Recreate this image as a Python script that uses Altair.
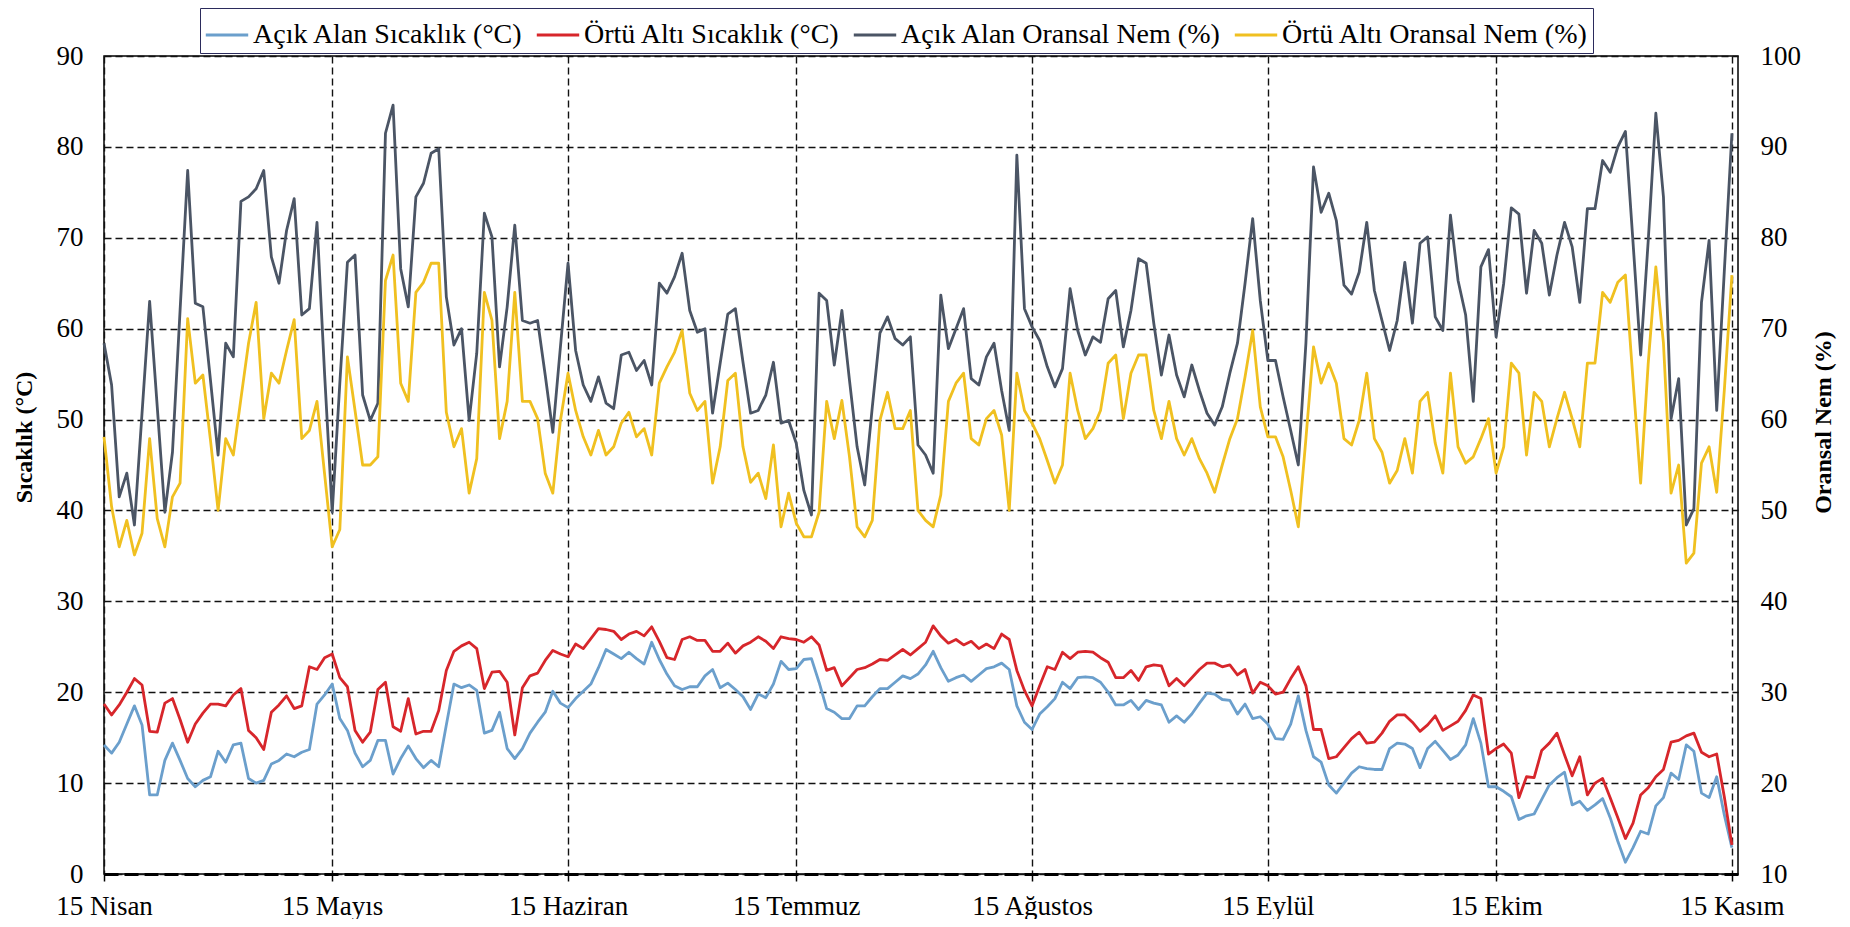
import altair as alt
import pandas as pd

# x positions (days after 15 April) of the axis ticks and their labels
tick_days = [0, 30, 61, 91, 122, 153, 183, 214]
tick_labels = ["15 Nisan", "15 Mayıs", "15 Haziran", "15 Temmuz",
               "15 Ağustos", "15 Eylül", "15 Ekim", "15 Kasım"]

series_names = ["Açık Alan Sıcaklık (°C)", "Örtü Altı Sıcaklık (°C)",
                "Açık Alan Oransal Nem (%)", "Örtü Altı Oransal Nem (%)"]
series_colors = ["#6b9fcc", "#d7262b", "#4b5565", "#f0c020"]

# daily values, 15 April -> 15 November
acik_sicaklik = [
    14.2, 13.3, 14.5, 16.5, 18.5, 16.4, 8.7, 8.7, 12.5, 14.4, 12.5, 10.5, 9.6, 10.3, 10.7, 13.5, 12.3, 14.2, 14.4, 10.5,
    10.0, 10.3, 12.1, 12.5, 13.2, 12.9, 13.4, 13.7, 18.7, 19.7, 20.9, 17.1, 15.8, 13.3, 11.8, 12.5, 14.7, 14.7, 11.0, 12.7,
    14.1, 12.7, 11.7, 12.5, 11.8, 16.4, 20.9, 20.5, 20.8, 20.2, 15.5, 15.8, 17.8, 13.8, 12.7,
    13.8, 15.5, 16.7, 17.8, 20.1, 18.8, 18.3, 19.3, 20.1, 20.9, 22.7, 24.7, 24.2, 23.7, 24.4, 23.7, 23.1, 25.5, 23.6, 22.0,
    20.7, 20.3, 20.6, 20.6, 21.8, 22.5, 20.5, 21.0, 20.3, 19.5, 18.1, 19.8, 19.4, 20.9, 23.4, 22.5, 22.6, 23.6, 23.7, 21.1,
    18.2, 17.8, 17.1, 17.1, 18.5, 18.5, 19.5, 20.4, 20.4, 21.1, 21.8, 21.5, 22.0, 23.0,
    24.5, 22.7, 21.2, 21.6, 21.9, 21.2, 21.9, 22.6, 22.8, 23.2, 22.5, 18.5, 16.7, 15.9, 17.6, 18.4, 19.3, 21.1, 20.4, 21.6,
    21.7, 21.6, 21.1, 20.0, 18.6, 18.6, 19.1, 18.1, 19.1, 18.8, 18.6, 16.7, 17.4, 16.7, 17.6, 18.8, 19.9, 19.8, 19.2, 19.1,
    17.6, 18.7, 17.1, 17.3, 16.5, 14.9, 14.8, 16.5, 19.6, 15.8, 12.9, 12.3, 9.8, 8.9,
    10.0, 11.1, 11.8, 11.6, 11.5, 11.5, 13.8, 14.4, 14.3, 13.8, 11.7, 13.8, 14.6, 13.6, 12.6, 13.1, 14.2, 17.1, 14.4, 9.6,
    9.6, 9.1, 8.5, 6.0, 6.4, 6.6, 8.2, 9.8, 10.6, 11.2, 7.6, 8.0, 7.0, 7.6, 8.3, 6.2, 3.6, 1.3, 2.9, 4.7,
    4.4, 7.5, 8.4, 11.1, 10.4, 14.2, 13.5, 8.9, 8.4, 10.7, 6.5, 2.9,
]
ortu_sicaklik = [
    18.7, 17.5, 18.6, 20.0, 21.5, 20.8, 15.7, 15.6, 18.8, 19.3, 17.0, 14.5, 16.5, 17.7, 18.7, 18.7, 18.5, 19.7, 20.4, 15.8,
    15.0, 13.7, 17.8, 18.6, 19.6, 18.2, 18.5, 22.8, 22.5, 23.8, 24.2, 21.6, 20.6, 15.8, 14.5, 15.6, 20.3, 21.1, 16.2, 15.7,
    19.3, 15.4, 15.7, 15.7, 18.0, 22.4, 24.5, 25.1, 25.5, 24.8, 20.4, 22.2, 22.3, 21.1, 15.3,
    20.5, 21.8, 22.1, 23.5, 24.6, 24.2, 23.9, 25.3, 24.8, 25.9, 27.0, 26.9, 26.7, 25.8, 26.4, 26.7, 26.2, 27.2, 25.6, 23.8,
    23.6, 25.8, 26.1, 25.7, 25.7, 24.5, 24.5, 25.4, 24.3, 25.1, 25.5, 26.1, 25.6, 24.8, 26.1, 25.9, 25.8, 25.5, 26.1, 25.2,
    22.4, 22.7, 20.7, 21.6, 22.5, 22.7, 23.1, 23.6, 23.5, 24.1, 24.7, 24.1, 24.8, 25.5,
    27.3, 26.2, 25.4, 25.8, 25.2, 25.6, 24.8, 25.3, 24.8, 26.4, 25.8, 22.4, 20.2, 18.5, 20.7, 22.8, 22.5, 24.4, 23.7, 24.4,
    24.5, 24.4, 23.8, 23.3, 21.6, 21.6, 22.4, 21.3, 22.8, 23.0, 22.9, 20.7, 21.5, 20.7, 21.6, 22.5, 23.2, 23.2, 22.8, 23.0,
    21.9, 22.5, 19.9, 21.1, 20.7, 19.8, 20.0, 21.5, 22.8, 20.7, 15.9, 15.9, 12.7, 12.9,
    13.9, 14.9, 15.6, 14.4, 14.5, 15.5, 16.8, 17.5, 17.5, 16.7, 15.7, 16.4, 17.4, 15.8, 16.3, 16.8, 18.0, 19.7, 19.3, 13.2,
    13.8, 14.3, 13.3, 8.4, 10.7, 10.6, 13.6, 14.4, 15.5, 13.1, 10.8, 12.9, 8.7, 10.0, 10.5, 8.4, 6.2, 3.9, 5.6, 8.7,
    9.5, 10.7, 11.5, 14.5, 14.7, 15.2, 15.5, 13.4, 12.9, 13.2, 8.5, 3.2,
]
acik_nem = [
    68.4, 63.8, 51.5, 54.1, 48.4, 60.7, 73.0, 61.4, 49.8, 56.4, 72.0, 87.4, 72.8, 72.4, 64.3, 56.1, 68.4, 66.9, 84.0, 84.5,
    85.4, 87.4, 77.9, 75.0, 80.8, 84.3, 71.5, 72.2, 81.7, 65.0, 49.8, 64.0, 77.3, 78.1, 62.7, 59.9, 61.8, 91.5, 94.6, 76.6,
    72.4, 84.5, 86.0, 89.3, 89.8, 73.5, 68.2, 70.0, 59.9, 67.3, 82.7, 80.1, 65.8, 72.4, 81.4,
    70.9, 70.6, 70.9, 64.9, 58.6, 68.0, 77.2, 67.6, 63.8, 62.0, 64.7, 61.8, 61.2, 67.1, 67.4, 65.4, 66.5, 63.8, 75.0, 73.9,
    75.7, 78.3, 72.0, 69.6, 70.0, 60.7, 66.2, 71.6, 72.2, 66.3, 60.7, 61.0, 62.7, 66.3, 59.6, 59.9, 57.4, 52.2, 49.5, 73.9,
    73.1, 66.0, 72.0, 64.3, 57.0, 52.8, 61.4, 69.5, 71.3, 68.9, 68.2, 69.1, 57.2, 56.1,
    54.1, 73.7, 67.8, 70.0, 72.2, 64.5, 63.8, 66.9, 68.4, 63.2, 58.8, 89.1, 72.2, 70.2, 68.7, 65.8, 63.6, 65.6, 74.4, 69.8,
    67.1, 69.1, 68.5, 73.3, 74.2, 68.0, 72.0, 77.7, 77.2, 70.6, 64.9, 69.3, 64.9, 62.5, 66.0, 63.2, 60.7, 59.4, 61.4, 65.1,
    68.4, 75.0, 82.1, 73.1, 66.5, 66.5, 62.5, 58.8, 55.0, 68.4, 87.8, 82.8, 84.9, 81.9,
    74.8, 73.8, 76.2, 81.7, 74.2, 70.9, 67.6, 70.9, 77.3, 70.6, 79.4, 80.1, 71.3, 69.8, 82.5, 75.3, 71.5, 62.0, 76.8, 78.7,
    69.1, 75.0, 83.3, 82.6, 73.9, 80.8, 79.4, 73.7, 78.1, 81.7, 79.0, 72.9, 83.2, 83.2, 88.5, 87.2, 90.0, 91.7, 79.5, 67.1,
    79.7, 93.7, 84.5, 60.1, 64.5, 48.4, 50.2, 72.9, 79.7, 61.0, 76.3, 91.5,
]
ortu_nem = [
    58.1, 50.4, 46.0, 48.9, 45.1, 47.5, 57.9, 49.1, 46.0, 51.5, 53.0, 71.1, 64.0, 64.9, 57.7, 50.0, 57.9, 56.1, 62.3, 68.4,
    72.9, 60.1, 65.1, 64.0, 67.6, 71.0, 57.9, 58.8, 62.0, 54.0, 46.0, 47.9, 66.9, 61.0, 55.0, 55.0, 55.9, 75.3, 78.1, 64.0,
    62.0, 74.0, 75.1, 77.2, 77.2, 60.8, 57.0, 59.0, 51.9, 55.7, 74.0, 70.9, 57.9, 62.0, 74.0,
    62.0, 62.0, 60.1, 54.1, 51.9, 59.9, 65.1, 61.0, 58.1, 56.1, 58.8, 56.1, 57.0, 59.6, 60.8, 58.1, 59.0, 56.1, 64.0, 65.8,
    67.4, 69.8, 62.9, 61.0, 62.0, 53.0, 57.0, 64.3, 65.1, 57.0, 53.1, 54.1, 51.3, 57.2, 48.2, 51.9, 48.6, 47.1, 47.1, 49.8,
    62.0, 57.9, 62.1, 55.9, 48.2, 47.1, 48.9, 59.9, 63.0, 59.0, 59.0, 61.0, 50.0, 48.9,
    48.2, 51.7, 62.0, 64.0, 65.1, 57.9, 57.2, 60.1, 61.0, 58.3, 50.0, 65.1, 61.0, 59.6, 57.9, 55.5, 53.0, 55.0, 65.1, 61.0,
    57.9, 59.0, 61.0, 66.2, 67.1, 60.1, 65.1, 67.1, 67.1, 61.0, 57.9, 62.0, 57.9, 56.1, 57.9, 55.7, 54.1, 52.0, 55.0, 57.9,
    60.1, 64.7, 69.8, 61.4, 58.1, 58.1, 55.9, 52.2, 48.2, 57.9, 68.0, 64.0, 66.2, 64.0,
    57.9, 57.2, 59.9, 65.1, 57.9, 56.4, 53.0, 54.4, 57.9, 54.1, 62.0, 63.0, 57.4, 54.1, 65.1, 57.0, 55.2, 55.9, 57.9, 60.1,
    54.1, 57.0, 66.2, 65.1, 56.1, 63.0, 62.0, 57.0, 60.1, 63.0, 60.1, 57.0, 66.2, 66.2, 74.0, 72.9, 75.1, 75.9, 64.3, 53.0,
    66.2, 76.8, 68.4, 51.9, 55.0, 44.2, 45.3, 55.2, 57.0, 52.0, 63.2, 75.9,
]

frames = []
for name, vals in zip(series_names, [acik_sicaklik, ortu_sicaklik, acik_nem, ortu_nem]):
    frames.append(pd.DataFrame({"day": list(range(len(vals))), "value": vals, "series": name}))
data = pd.concat(frames, ignore_index=True)

FONT = "Liberation Serif, Times New Roman, serif"
label_expr = "[" + ",".join("'%s'" % t for t in tick_labels) + "][indexof([" + \
    ",".join(str(d) for d in tick_days) + "], datum.value)]"

x_enc = alt.X(
    "day:Q",
    scale=alt.Scale(domain=[0, 214.8], nice=False, zero=False),
    axis=alt.Axis(
        values=tick_days, labelExpr=label_expr, title=None,
        grid=True, gridDash=[7, 4], gridColor="#111111", gridWidth=1.4,
        ticks=True, tickSize=7, tickColor="black", tickWidth=1.5,
        domain=True, domainColor="black", domainWidth=3, domainDash=[14, 6],
        labelFont=FONT, labelFontSize=27, labelColor="black", labelPadding=12,
        labelFlush=False, labelOverlap=False,
    ),
)

color_enc = alt.Color(
    "series:N",
    scale=alt.Scale(domain=series_names, range=series_colors),
    legend=alt.Legend(
        title=None, orient="none", legendX=96, legendY=-48,
        direction="horizontal", columns=4,
        symbolType="stroke", symbolStrokeWidth=3, symbolSize=1800,
        labelFont=FONT, labelFontSize=28, labelColor="black", labelLimit=0,
        labelOffset=3, columnPadding=6, padding=4,
        strokeColor="#2b2b5c", fillColor="white",
    ),
)

y_left = alt.Y(
    "value:Q",
    scale=alt.Scale(domain=[0, 90], nice=False, zero=False),
    axis=alt.Axis(
        orient="left", values=list(range(0, 91, 10)),
        grid=True, gridDash=[7, 4], gridColor="#111111", gridWidth=1.4,
        ticks=False, tickSize=0, domain=False,
        labelFont=FONT, labelFontSize=27, labelColor="black", labelPadding=21,
        title="Sıcaklık  (°C)", titleFont=FONT, titleFontSize=24, titleFontWeight="bold",
        titleColor="black", titleAngle=270, titleX=-80, titleY=381,
        titleAlign="center", titleBaseline="middle",
    ),
)

y_right = alt.Y(
    "value:Q",
    scale=alt.Scale(domain=[10, 100], nice=False, zero=False),
    axis=alt.Axis(
        orient="right", values=list(range(10, 101, 10)),
        grid=False, ticks=False, tickSize=0, domain=False,
        labelFont=FONT, labelFontSize=27, labelColor="black", labelPadding=22,
        title="Oransal  Nem (%)", titleFont=FONT, titleFontSize=24, titleFontWeight="bold",
        titleColor="black", titleAngle=270, titleX=85, titleY=366,
        titleAlign="center", titleBaseline="middle",
    ),
)


def series_layer(name, y_enc):
    return (
        alt.Chart(data)
        .transform_filter(alt.datum.series == name)
        .mark_line(strokeWidth=2.8, strokeJoin="round")
        .encode(x=x_enc, y=y_enc, color=color_enc)
    )


temp_layers = alt.layer(series_layer(series_names[0], y_left), series_layer(series_names[1], y_left))
hum_layers = alt.layer(series_layer(series_names[2], y_right), series_layer(series_names[3], y_right))

chart = (
    alt.layer(temp_layers, hum_layers)
    .resolve_scale(y="independent")
    .properties(
        width=1634, height=818,
        padding={"left": 96, "top": 48, "right": 104, "bottom": 45},
        autosize=alt.AutoSizeParams(type="none"),
        background="white",
    )
    .configure_view(stroke="black", strokeWidth=1.5)
)

chart.save("out.html", embed_options={"renderer": "svg", "actions": False})
